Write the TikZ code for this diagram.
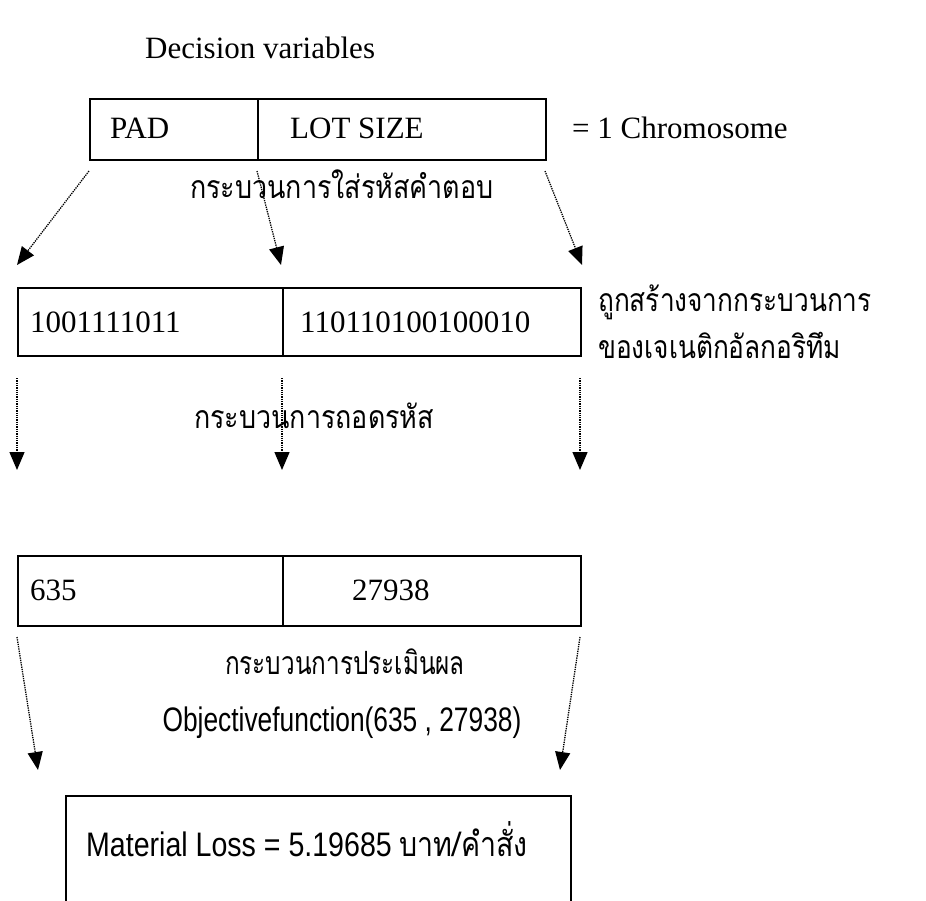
\documentclass[tikz,border=0pt]{standalone}
\usepackage{fontspec}
\usepackage{graphicx}
\setmainfont{Liberation Serif}
\newfontfamily\thaifont[Script=Thai]{Loma}
\newfontfamily\latsans{Liberation Sans}
\usetikzlibrary{arrows.meta}
\newcommand{\sqz}[2]{\scalebox{#1}[1]{#2}}
\begin{document}
\begin{tikzpicture}[x=1pt,y=-1pt,
  cell/.style={draw,line width=2pt,inner sep=0pt,anchor=north west},
  rmtext/.style={inner sep=0pt,anchor=base west,font=\fontsize{31}{37}\selectfont},
  thtext/.style={inner sep=0pt,anchor=base west,font=\thaifont\fontsize{32}{38}\selectfont},
  sftext/.style={inner sep=0pt,anchor=base,font=\latsans\fontsize{34}{40}\selectfont},
  flow/.style={densely dotted,line width=1.3pt,-{Triangle[width=15pt,length=18pt]}}]
\clip (0,0) rectangle (926,900);
\fill[white] (0,0) rectangle (926,900);
% title
\node[rmtext] (title) at (145,58) {Decision variables};
% row 1
\node[cell,minimum width=168pt,minimum height=61pt] (r1a) at (89,98) {};
\node[cell,minimum width=288pt,minimum height=61pt] (r1b) at (257,98) {};
\node[rmtext] (pad) at (110,138) {PAD};
\node[rmtext] (lot) at (290,138) {LOT SIZE};
\node[rmtext] (chrom) at (572,138) {= 1 Chromosome};
\node[thtext] (enc) at (190,198) {\sqz{0.84}{กระบวนการใส่รหัสคำตอบ}};
% row 2
\node[cell,minimum width=265pt,minimum height=68pt] (r2a) at (17,287) {};
\node[cell,minimum width=298pt,minimum height=68pt] (r2b) at (282,287) {};
\node[rmtext] (bin1) at (30,332) {1001111011};
\node[rmtext] (bin2) at (300,332) {110110100100010};
\node[thtext] (ga1) at (598,311) {\sqz{0.82}{ถูกสร้างจากกระบวนการ}};
\node[thtext] (ga2) at (598,358) {\sqz{0.82}{ของเจเนติกอัลกอริทึม}};
\node[thtext] (dec) at (194,428) {\sqz{0.84}{กระบวนการถอดรหัส}};
% row 3
\node[cell,minimum width=265pt,minimum height=70pt] (r3a) at (17,555) {};
\node[cell,minimum width=298pt,minimum height=70pt] (r3b) at (282,555) {};
\node[rmtext] (v1) at (30,600) {635};
\node[rmtext] (v2) at (352,600) {27938};
\node[thtext,anchor=base] (eva) at (345,674) {\sqz{0.76}{กระบวนการประเมินผล}};
\node[sftext] (obj) at (342,731) {\sqz{0.775}{Objectivefunction(635 , 27938)}};
% result
\node[cell,minimum width=505pt,minimum height=130pt] (res) at (65,795) {};
\node[sftext,anchor=base west] (loss) at (86,856) {\sqz{0.84}{Material Loss = 5.19685 {\thaifont บาท/คำสั่ง}}};
% arrow ends
\coordinate (s1) at (89,171);  \coordinate (e1) at (17,265);
\coordinate (s2) at (257,171); \coordinate (e2) at (281,265);
\coordinate (s3) at (545,171); \coordinate (e3) at (582,265);
\coordinate (s4) at (17,378);  \coordinate (e4) at (17,470);
\coordinate (s5) at (282,378); \coordinate (e5) at (282,470);
\coordinate (s6) at (580,378); \coordinate (e6) at (580,470);
\coordinate (s7) at (17,637);  \coordinate (e7) at (38,770);
\coordinate (s8) at (580,637); \coordinate (e8) at (560,770);
\foreach \i in {1,...,8} \draw[flow] (s\i) -- (e\i);
\end{tikzpicture}
\end{document}
